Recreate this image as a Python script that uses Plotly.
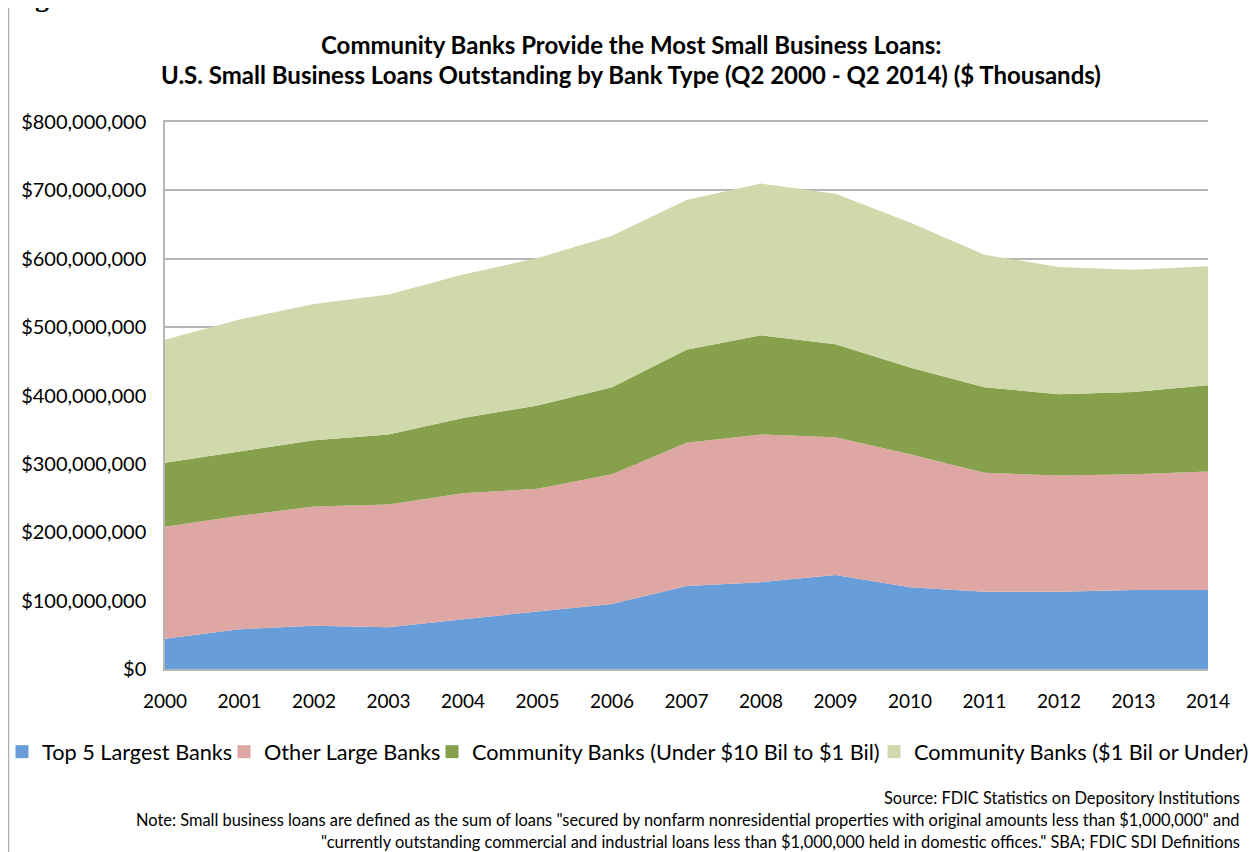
import plotly.graph_objects as go

years = list(range(2000, 2015))

# $ Thousands
top5_largest = [44_400_000, 58_000_000, 63_400_000, 61_000_000, 72_800_000, 84_000_000, 95_200_000,
                121_500_000, 127_000_000, 137_600_000, 119_600_000, 113_000_000, 113_000_000,
                115_700_000, 115_700_000]
other_large = [163_600_000, 166_000_000, 174_200_000, 179_600_000, 184_200_000, 179_500_000,
               189_800_000, 209_500_000, 216_000_000, 201_400_000, 194_400_000, 174_000_000,
               170_000_000, 169_300_000, 173_300_000]
community_mid = [93_500_000, 94_000_000, 96_900_000, 102_200_000, 110_000_000, 122_000_000,
                 127_000_000, 136_000_000, 145_000_000, 136_000_000, 127_000_000, 125_000_000,
                 119_000_000, 120_000_000, 126_000_000]
community_small = [180_200_000, 193_000_000, 199_500_000, 204_800_000, 210_000_000, 215_500_000,
                   221_500_000, 219_000_000, 222_000_000, 220_000_000, 212_000_000, 194_000_000,
                   186_000_000, 179_000_000, 174_000_000]

series_names = ["Top 5 Largest Banks", "Other Large Banks",
                "Community Banks (Under $10 Bil to $1 Bil)", "Community Banks ($1 Bil or Under)"]
series_values = [top5_largest, other_large, community_mid, community_small]
colors = ["#679ED9", "#DFA7A3", "#86A04B", "#CFD9AC"]

FONT = "Lato"
OFF = 8  # page body margin
W, H = 1252, 844
L, R, T, B = 157, 52, 114.3, 183
pw, ph = W - L - R, H - T - B


def px2x(px):
    return (px - OFF - L) / pw


def py2y(py):
    return (H - B - (py - OFF)) / ph


fig = go.Figure()
legend_ids = ["legend", "legend2", "legend3", "legend4"]
for name, vals, col in zip(series_names, series_values, colors):
    fig.add_trace(go.Scatter(x=years, y=vals, name=name, mode="lines", stackgroup="one",
                             line=dict(width=0, color=col), fillcolor=col, showlegend=False))
for name, col, lid in zip(series_names, colors, legend_ids):
    fig.add_trace(go.Scatter(x=[None], y=[None], name=name, mode="markers",
                             marker=dict(symbol="square", size=13, color=col),
                             legend=lid, showlegend=True))

legend_text_start = [39, 261, 469, 911]
legend_common = dict(orientation="h", xanchor="left", yanchor="middle", y=py2y(752),
                     font=dict(family=FONT, size=21.7, color="#000000"),
                     bgcolor="rgba(0,0,0,0)", itemwidth=30, tracegroupgap=0)
legends = {}
for lid, ts in zip(legend_ids, legend_text_start):
    legends[lid] = dict(legend_common, x=px2x(ts - 37))

grid_col = "#B5B5B5"
fig.update_layout(
    width=W, height=H,
    margin=dict(l=L, r=R, t=T, b=B, autoexpand=False),
    paper_bgcolor="white", plot_bgcolor="white",
    font=dict(family=FONT, color="#000000"),
    **legends,
    xaxis=dict(range=[2000, 2014], tickmode="array", tickvals=years,
               ticktext=[str(y) for y in years], showgrid=False, zeroline=False,
               showline=True, mirror=True, linecolor=grid_col, linewidth=1.5, ticks="",
               tickfont=dict(family=FONT, size=19, color="#000000"), ticklabelstandoff=14),
    yaxis=dict(range=[0, 800_000_000], dtick=100_000_000, tickprefix="$", tickformat=",.0f",
               showgrid=True, gridcolor=grid_col, gridwidth=1.5, zeroline=False,
               showline=True, linecolor=grid_col, linewidth=1.5, ticks="",
               tickfont=dict(family=FONT, size=20, color="#000000"), ticklabelstandoff=13),
    showlegend=True,
)

note_font = dict(family=FONT, size=16.4, color="#000000")
title_font = dict(family=FONT, size=24, color="#000000")
annotations = [
    dict(text="<b>Community Banks Provide the Most Small Business Loans:</b>",
         x=px2x(631), xref="paper", y=py2y(45), yref="paper", xanchor="center", yanchor="middle",
         showarrow=False, font=title_font),
    dict(text="<b>U.S. Small Business Loans Outstanding by Bank Type (Q2 2000 - Q2 2014) ($ Thousands)</b>",
         x=px2x(631), xref="paper", y=py2y(75), yref="paper", xanchor="center", yanchor="middle",
         showarrow=False, font=title_font),
    dict(text="Source: FDIC Statistics on Depository Institutions",
         x=px2x(1242), xref="paper", y=py2y(797), yref="paper", xanchor="right", yanchor="middle",
         showarrow=False, font=note_font),
    dict(text='Note: Small business loans are defined as the sum of loans "secured by nonfarm nonresidential properties with original amounts less than $1,000,000" and',
         x=px2x(1242), xref="paper", y=py2y(819), yref="paper", xanchor="right", yanchor="middle",
         showarrow=False, font=note_font),
    dict(text='"currently outstanding commercial and industrial loans less than $1,000,000 held in domestic offices." SBA; FDIC SDI Definitions',
         x=px2x(1242), xref="paper", y=py2y(841), yref="paper", xanchor="right", yanchor="middle",
         showarrow=False, font=note_font),
    dict(text="<b>Figure 3</b>",
         x=px2x(8), xref="paper", y=py2y(14), yref="paper", xanchor="left", yanchor="bottom",
         showarrow=False, font=dict(family="Liberation Serif", size=28, color="#000000")),
]
fig.update_layout(annotations=annotations)

fig.add_shape(type="rect", xref="paper", yref="paper",
              x0=px2x(8.5), x1=px2x(1255.5), y0=py2y(880), y1=py2y(7.5),
              line=dict(color="#AFAFAF", width=1.5), fillcolor="rgba(0,0,0,0)", layer="above")

fig.write_html("out.html")
